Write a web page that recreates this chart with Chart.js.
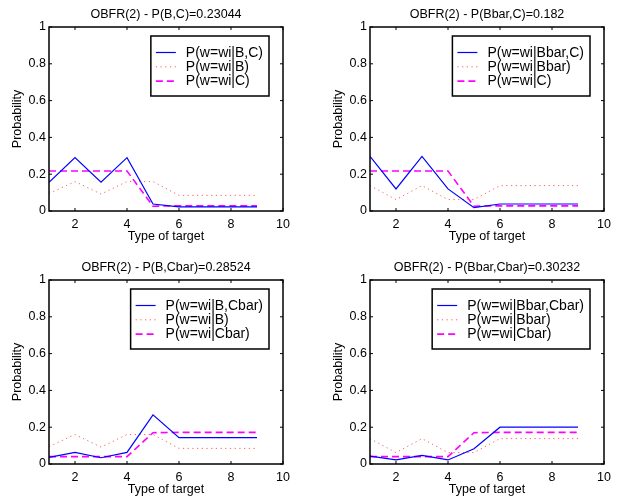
<!DOCTYPE html>
<html lang="en">
<head>
<meta charset="UTF-8" />
<title>OBFR(2) – probabilities per type of target</title>
<script src="https://cdn.jsdelivr.net/npm/chart.js"></script>
<style>
  body {
    margin: 0;
    background: #fff;
    width: 618px;
    height: 502px;
    overflow: hidden;
    position: relative;
  }
  .panel { position: absolute; width: 297px; height: 249px; }
  #p1 { left: 0; top: 0; }
  #p2 { left: 321px; top: 0; }
  #p3 { left: 0; top: 253px; }
  #p4 { left: 321px; top: 253px; }
</style>
</head>
<body>

<div class="panel" id="p1"><canvas id="c1" width="297" height="249"></canvas></div>
<div class="panel" id="p2"><canvas id="c2" width="297" height="249"></canvas></div>
<div class="panel" id="p3"><canvas id="c3" width="297" height="249"></canvas></div>
<div class="panel" id="p4"><canvas id="c4" width="297" height="249"></canvas></div>

<script>
  // data
  const targetTypes = [1, 2, 3, 4, 5, 6, 7, 8, 9];
  const xTicks = [2, 4, 6, 8, 10];
  const yTicks = [0, 0.2, 0.4, 0.6, 0.8, 1];

  const pB_C       = [0.156, 0.290, 0.156, 0.290, 0.038, 0.022, 0.022, 0.022, 0.022];
  const pBbar_C    = [0.297, 0.120, 0.297, 0.120, 0.018, 0.038, 0.038, 0.038, 0.038];
  const pB_Cbar    = [0.036, 0.063, 0.034, 0.063, 0.267, 0.143, 0.143, 0.143, 0.143];
  const pBbar_Cbar = [0.043, 0.022, 0.047, 0.022, 0.083, 0.200, 0.200, 0.200, 0.200];

  const pB    = [0.095, 0.160, 0.092, 0.160, 0.160, 0.085, 0.085, 0.085, 0.085];
  const pBbar = [0.138, 0.062, 0.138, 0.062, 0.062, 0.138, 0.138, 0.138, 0.138];
  const pC    = [0.217, 0.217, 0.217, 0.217, 0.026, 0.028, 0.028, 0.028, 0.028];
  const pCbar = [0.040, 0.040, 0.040, 0.040, 0.170, 0.172, 0.172, 0.172, 0.172];

  const FONT = '"Liberation Sans", Arial, sans-serif';

  function pts(arr) {
    return targetTypes.map((t, i) => ({ x: t, y: arr[i] }));
  }

  function solidLine(label, arr) {
    return { label, data: pts(arr), borderColor: '#0000ff', borderWidth: 1.2 };
  }
  function dottedLine(label, arr) {
    return { label, data: pts(arr), borderColor: '#ff5a5a', borderWidth: 1, borderDash: [1.2, 3.5] };
  }
  function dashedLine(label, arr) {
    return { label, data: pts(arr), borderColor: '#ff00ff', borderWidth: 1.6, borderDash: [7, 4] };
  }

  // box, inward ticks, title and boxed legend like the original plot
  const matlabAxes = {
    id: 'matlabAxes',
    afterDraw(chart, args, opts) {
      const { ctx, chartArea: a } = chart;
      const xs = chart.scales.x, ys = chart.scales.y;
      ctx.save();

      ctx.strokeStyle = '#000';
      ctx.lineWidth = 1.5;
      ctx.strokeRect(a.left, a.top, a.right - a.left, a.bottom - a.top);

      ctx.lineWidth = 1;
      ctx.beginPath();
      xs.ticks.forEach(t => {
        const px = xs.getPixelForValue(t.value);
        ctx.moveTo(px, a.bottom); ctx.lineTo(px, a.bottom - 3);
        ctx.moveTo(px, a.top); ctx.lineTo(px, a.top + 3);
      });
      ys.ticks.forEach(t => {
        const py = ys.getPixelForValue(t.value);
        ctx.moveTo(a.left, py); ctx.lineTo(a.left + 3, py);
        ctx.moveTo(a.right, py); ctx.lineTo(a.right - 3, py);
      });
      ctx.stroke();

      ctx.fillStyle = '#000';
      ctx.font = '12.5px ' + FONT;
      ctx.textAlign = 'center';
      ctx.textBaseline = 'middle';
      ctx.fillText(opts.text, (a.left + a.right) / 2, a.top - 12);

      // legend
      const sets = chart.data.datasets;
      ctx.font = '14px ' + FONT;
      const textW = Math.max(...sets.map(d => ctx.measureText(d.label).width));
      const w = textW + 41, h = 60;
      const left = a.right - 14 - w, top = a.top + 9;
      ctx.fillStyle = '#fff';
      ctx.fillRect(left, top, w, h);
      ctx.strokeStyle = '#000';
      ctx.lineWidth = 1.5;
      ctx.strokeRect(left, top, w, h);
      sets.forEach((d, i) => {
        const y = top + 16.5 + i * 14.3;
        ctx.beginPath();
        ctx.setLineDash(d.borderDash || []);
        ctx.strokeStyle = d.borderColor;
        ctx.lineWidth = d.borderWidth;
        ctx.moveTo(left + 5, y);
        ctx.lineTo(left + 25, y);
        ctx.stroke();
        ctx.setLineDash([]);
        ctx.fillStyle = '#000';
        ctx.textAlign = 'left';
        ctx.fillText(d.label, left + 35, y + 0.5);
      });
      ctx.restore();
    }
  };

  function makeChart(id, title, datasets) {
    return new Chart(document.getElementById(id), {
      type: 'line',
      data: { datasets },
      plugins: [matlabAxes],
      options: {
        responsive: false,
        animation: false,
        layout: { padding: { top: 27, right: 14, left: 0, bottom: 0 } },
        elements: { point: { radius: 0 }, line: { tension: 0 } },
        plugins: {
          legend: { display: false },
          tooltip: { enabled: false },
          matlabAxes: { text: title }
        },
        scales: {
          x: {
            type: 'linear',
            min: 1,
            max: 10,
            afterBuildTicks: s => { s.ticks = xTicks.map(v => ({ value: v })); },
            afterFit: s => { s.height = 38; },
            grid: { display: false, drawTicks: false },
            border: { display: false },
            ticks: { color: '#000', font: { family: FONT, size: 12.5 }, padding: 6, maxRotation: 0, autoSkip: false },
            title: { display: true, text: 'Type of target', color: '#000', font: { family: FONT, size: 12.5 }, padding: { top: 0, bottom: 4.5 } }
          },
          y: {
            min: 0,
            max: 1,
            afterBuildTicks: s => { s.ticks = yTicks.map(v => ({ value: v })); },
            afterFit: s => { s.width = 49; },
            grid: { display: false, drawTicks: false },
            border: { display: false },
            ticks: { color: '#000', font: { family: FONT, size: 12.5 }, padding: 3, callback: v => String(v) },
            title: { display: true, text: 'Probability', color: '#000', font: { family: FONT, size: 12.5 }, padding: { top: 10.5, bottom: 0 } }
          }
        }
      }
    });
  }

  makeChart('c1', 'OBFR(2) - P(B,C)=0.23044', [
    solidLine('P(w=wi|B,C)', pB_C),
    dottedLine('P(w=wi|B)', pB),
    dashedLine('P(w=wi|C)', pC)
  ]);
  makeChart('c2', 'OBFR(2) - P(Bbar,C)=0.182', [
    solidLine('P(w=wi|Bbar,C)', pBbar_C),
    dottedLine('P(w=wi|Bbar)', pBbar),
    dashedLine('P(w=wi|C)', pC)
  ]);
  makeChart('c3', 'OBFR(2) - P(B,Cbar)=0.28524', [
    solidLine('P(w=wi|B,Cbar)', pB_Cbar),
    dottedLine('P(w=wi|B)', pB),
    dashedLine('P(w=wi|Cbar)', pCbar)
  ]);
  makeChart('c4', 'OBFR(2) - P(Bbar,Cbar)=0.30232', [
    solidLine('P(w=wi|Bbar,Cbar)', pBbar_Cbar),
    dottedLine('P(w=wi|Bbar)', pBbar),
    dashedLine('P(w=wi|Cbar)', pCbar)
  ]);
</script>
</body>
</html>
